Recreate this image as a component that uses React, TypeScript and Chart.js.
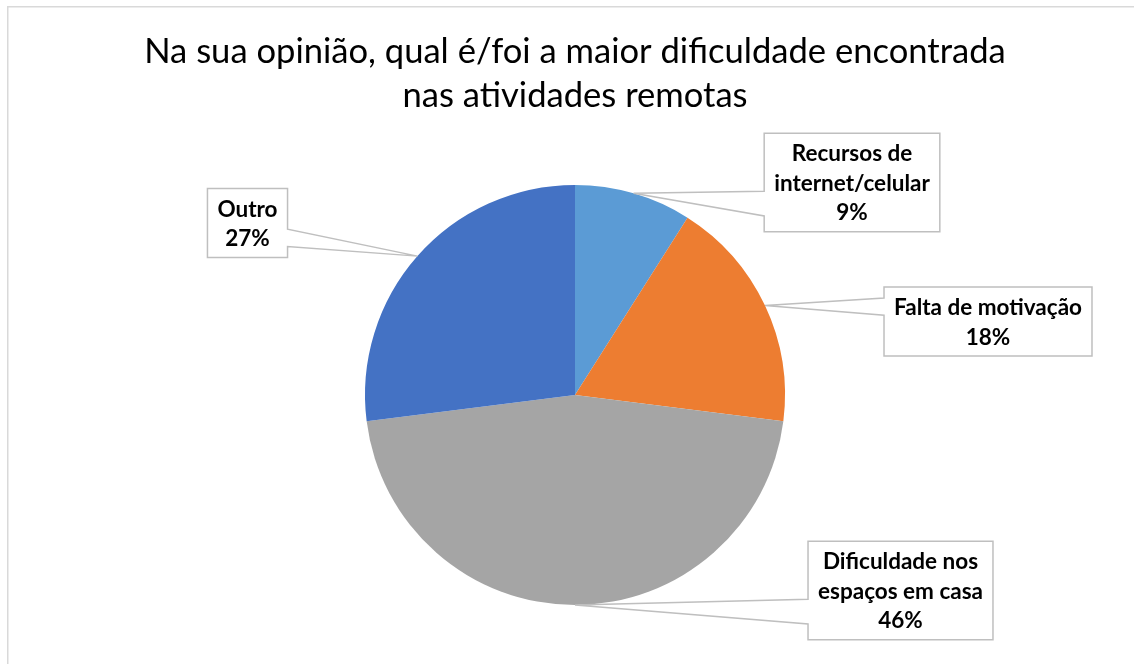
import React, { useEffect, useRef } from "react";
import { Chart, registerables } from "chart.js";

Chart.register(...registerables);

const TITLE_LINES = [
  "Na sua opinião, qual é/foi a maior dificuldade encontrada",
  "nas atividades remotas",
];
const CATEGORIES = [
  "Recursos de internet/celular",
  "Falta de motivação",
  "Dificuldade nos espaços em casa",
  "Outro",
];
const VALUES = [9, 18, 46, 27];
const LABEL_LINES = [
  ["Recursos de", "internet/celular"],
  ["Falta de motivação"],
  ["Dificuldade nos", "espaços em casa"],
  ["Outro"],
];
const COLORS = ["#5B9BD5", "#ED7D31", "#A5A5A5", "#4472C4"];

// layout: label box centres relative to the pie centre (px)
const BOX_OFFSETS = [
  [277, -212.5],
  [413, -73.5],
  [325.5, 195.5],
  [-327.5, -172],
];

const W = 1134;
const H = 664;
const LABEL_FONT = "bold 22.5px Lato, sans-serif";
const LINE_H = 29.5;

const calloutPlugin = {
  id: "callouts",
  afterDraw(chart: any) {
    const ctx = chart.ctx as CanvasRenderingContext2D;
    ctx.save();
    // outer chart border
    ctx.strokeStyle = "#d9d9d9";
    ctx.lineWidth = 1.5;
    ctx.beginPath();
    ctx.moveTo(7.75, H + 10);
    ctx.lineTo(7.75, 6.75);
    ctx.lineTo(W + 10, 6.75);
    ctx.stroke();

    // title
    ctx.fillStyle = "#000000";
    ctx.font = "34.6px Lato, sans-serif";
    ctx.textAlign = "center";
    ctx.textBaseline = "alphabetic";
    ctx.fillText(TITLE_LINES[0], 575, 63);
    ctx.fillText(TITLE_LINES[1], 575, 107);

    const meta = chart.getDatasetMeta(0);
    const total = VALUES.reduce((a, b) => a + b, 0);
    meta.data.forEach((arc: any, i: number) => {
      const p = arc.getProps(["x", "y", "startAngle", "endAngle", "outerRadius"], true);
      const mid = (p.startAngle + p.endAngle) / 2;
      const ax = p.x + Math.cos(mid) * p.outerRadius;
      const ay = p.y + Math.sin(mid) * p.outerRadius;
      const lines = [...LABEL_LINES[i], Math.round((VALUES[i] / total) * 100) + "%"];
      ctx.font = LABEL_FONT;
      const tw = Math.max(...lines.map((l) => ctx.measureText(l).width));
      const bw = tw + 20;
      const bh = lines.length * LINE_H + 10;
      const cx = p.x + BOX_OFFSETS[i][0];
      const cy = p.y + BOX_OFFSETS[i][1];
      const L = cx - bw / 2;
      const R = cx + bw / 2;
      const T = cy - bh / 2;
      const B = cy + bh / 2;
      const below = ay > cy;
      const g1 = T + bh * (below ? 0.59 : 0.16);
      const g2 = T + bh * (below ? 0.84 : 0.41);

      ctx.beginPath();
      if (ax < L) {
        ctx.moveTo(L, T);
        ctx.lineTo(R, T);
        ctx.lineTo(R, B);
        ctx.lineTo(L, B);
        ctx.lineTo(L, g2);
        ctx.lineTo(ax, ay);
        ctx.lineTo(L, g1);
      } else {
        ctx.moveTo(R, T);
        ctx.lineTo(L, T);
        ctx.lineTo(L, B);
        ctx.lineTo(R, B);
        ctx.lineTo(R, g2);
        ctx.lineTo(ax, ay);
        ctx.lineTo(R, g1);
      }
      ctx.closePath();
      ctx.fillStyle = "#ffffff";
      ctx.fill();
      ctx.strokeStyle = "#bfbfbf";
      ctx.lineWidth = 1.5;
      ctx.stroke();

      ctx.fillStyle = "#000000";
      ctx.textAlign = "center";
      ctx.textBaseline = "middle";
      const startY = cy - ((lines.length - 1) * LINE_H) / 2;
      lines.forEach((l, k) => ctx.fillText(l, cx, startY + k * LINE_H + 1));
    });
    ctx.restore();
  },
};

export default function App() {
  const ref = useRef<HTMLCanvasElement | null>(null);
  useEffect(() => {
    if (!ref.current) return;
    const chart = new Chart(ref.current, {
      type: "pie",
      data: {
        labels: CATEGORIES,
        datasets: [
          {
            data: VALUES,
            backgroundColor: COLORS,
            borderWidth: 0,
          },
        ],
      },
      options: {
        responsive: false,
        animation: false,
        layout: { padding: { left: 365, right: 349, top: 185, bottom: 59 } },
        plugins: {
          legend: { display: false },
          tooltip: { enabled: false },
          title: { display: false },
        },
      },
      plugins: [calloutPlugin],
    });
    return () => chart.destroy();
  }, []);
  return (
    <div style={{ position: "absolute", left: 0, top: 0, width: W, height: H, background: "#fff" }}>
      <canvas ref={ref} width={W} height={H} style={{ display: "block" }} />
    </div>
  );
}
